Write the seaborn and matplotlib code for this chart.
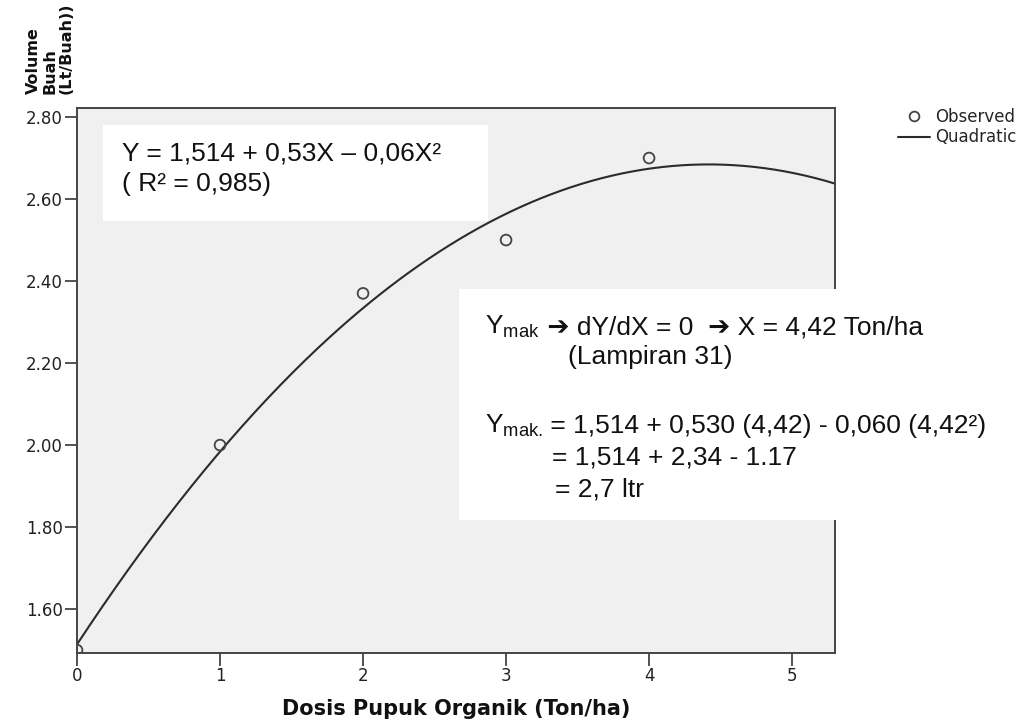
import numpy as np
import pandas as pd
import matplotlib
matplotlib.use("Agg")
import matplotlib.pyplot as plt
import seaborn as sns
from matplotlib.patches import Rectangle
from matplotlib.lines import Line2D

# ---- data ----
dosis = [0, 1, 2, 3, 4]
volume = [1.50, 2.00, 2.37, 2.50, 2.70]
quad_coef = [1.514, 0.53, -0.06]          # b0, b1, b2 of the printed fit
x_ticks = [0, 1, 2, 3, 4, 5]
y_ticks = [1.60, 1.80, 2.00, 2.20, 2.40, 2.60, 2.80]
legend_labels = ["Observed", "Quadratic"]
x_label = "Dosis Pupuk Organik (Ton/ha)"
y_label = "Volume\nBuah\n(Lt/Buah))"
eq_lines = ["Y = 1,514 + 0,53X \u2013 0,06X\u00b2", "( R\u00b2 = 0,985)"]
# (head with subscript, rest of the line)
max_lines = [
    ("Y$_{\\mathrm{mak}}$", " \u2794 dY/dX = 0  \u2794 X = 4,42 Ton/ha"),
    ("", "(Lampiran 31)"),
    ("Y$_{\\mathrm{mak.}}$", " = 1,514 + 0,530 (4,42) - 0,060 (4,42\u00b2)"),
    ("", "= 1,514 + 2,34 - 1.17"),
    ("", "= 2,7 ltr"),
]

sns.set_style("white")
plt.rcParams["font.family"] = ["DejaVu Sans"]
plt.rcParams["mathtext.fontset"] = "custom"
plt.rcParams["mathtext.rm"] = "Liberation Sans"
plt.rcParams["mathtext.it"] = "Liberation Sans:italic"
plt.rcParams["mathtext.bf"] = "Liberation Sans:bold"

W, H = 1030, 724
fig = plt.figure(figsize=(W / 100, H / 100), dpi=100)
fig.patch.set_facecolor("white")
L, R, T, B = 77, 835, 108, 653
ax = fig.add_axes([L / W, 1 - B / H, (R - L) / W, (B - T) / H])
ax.set_facecolor("#F0F0F0")
ax.set_xlim(0, 5.3)
ax.set_ylim(1.493, 2.822)

obs = pd.DataFrame({"x": dosis, "y": volume})
xs = np.linspace(0, 5.3, 300)
fit = pd.DataFrame({"x": xs, "y": np.polyval(quad_coef[::-1], xs)})

sns.lineplot(data=fit, x="x", y="y", ax=ax, color="#2b2b2b", linewidth=1.5, zorder=2)
sns.scatterplot(data=obs, x="x", y="y", ax=ax, marker="o", s=60,
                facecolors="none", edgecolor="#444444", linewidth=1.3, zorder=3)

ax.set_xticks(x_ticks)
ax.set_xticklabels([str(v) for v in x_ticks])
ax.set_yticks(y_ticks)
ax.set_yticklabels([f"{v:.2f}" for v in y_ticks])
ax.set_xlabel("")
ax.set_ylabel("")
ax.tick_params(axis="both", bottom=True, left=True, direction="out", length=9,
               width=1.3, color="#444444", labelsize=12, labelcolor="#222222", pad=1)
for s in ax.spines.values():
    s.set_visible(True)
    s.set_color("#444444")
    s.set_linewidth(1.4)

# axis titles
fig.text((L + R) / 2 / W, 1 - 709 / H, x_label, ha="center", va="center",
         fontsize=15, fontweight="bold", color="#111111")
fig.text(50 / W, 1 - 94 / H, y_label, rotation=90, ha="center", va="bottom",
         multialignment="left", fontsize=11.5, fontweight="bold", color="#111111",
         linespacing=1.1)

# legend
h1 = Line2D([], [], ls="none", marker="o", mfc="none", mec="#444444", ms=7, mew=1.3)
h2 = Line2D([], [], color="#2b2b2b", lw=1.5)
fig.legend(handles=[h1, h2], labels=legend_labels, loc="upper left",
           bbox_to_anchor=(898 / W, 1 - 108 / H), bbox_transform=fig.transFigure,
           frameon=False, fontsize=12, handlelength=1.9, handletextpad=0.35,
           labelspacing=0.15, borderpad=0, borderaxespad=0)

# white annotation boxes
def box(x0, y0, x1, y1):
    fig.add_artist(Rectangle((x0 / W, 1 - y1 / H), (x1 - x0) / W, (y1 - y0) / H,
                             transform=fig.transFigure, facecolor="white",
                             edgecolor="none", zorder=5))

box(103, 125, 488, 221)
box(459, 289, 1030, 520)

eq_font = dict(fontsize=19, color="#111111", zorder=6, va="baseline", ha="left")
fam = ["Liberation Sans", "DejaVu Sans"]
fig.text(122 / W, 1 - 161 / H, eq_lines[0], family=fam, **eq_font)
fig.text(122 / W, 1 - 191 / H, eq_lines[1], family=fam, **eq_font)

pos = [(485, 334), (568, 364), (485, 433), (552, 465), (555, 496)]
for (px, py), (head, rest) in zip(pos, max_lines):
    x_next = px
    if head:
        t = fig.text(px / W, 1 - py / H, head, family="Liberation Sans", **eq_font)
        fig.canvas.draw()
        bb = t.get_window_extent()
        x_next = bb.x1
    fig.text(x_next / W, 1 - py / H, rest, family=fam, **eq_font)

fig.savefig("out.png", dpi=100)
